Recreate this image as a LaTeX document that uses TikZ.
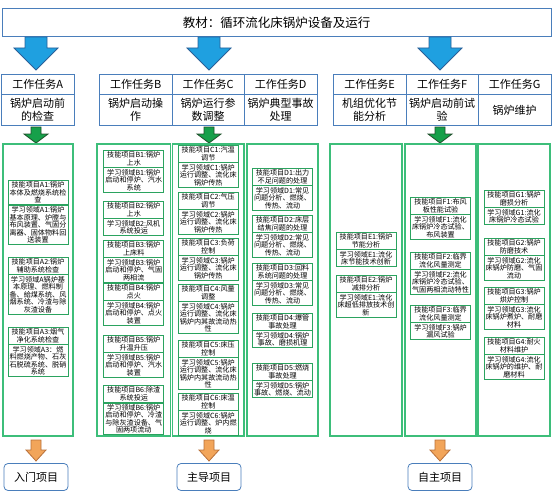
\documentclass[tikz,border=0pt]{standalone}
\usepackage{fontspec}
\setmainfont{Noto Sans CJK SC}
\usepackage{xcolor}
\usetikzlibrary{positioning}

\definecolor{lineblue}{HTML}{4A7EBB}
\definecolor{skyfill}{HTML}{1FA0E0}
\definecolor{skyline}{HTML}{2A6099}
\definecolor{leaffill}{HTML}{16A04A}
\definecolor{leafline}{HTML}{1E4F2A}
\definecolor{panelgreen}{HTML}{3DBE7A}
\definecolor{cardgreen}{HTML}{2BA35F}
\definecolor{orangefill}{HTML}{F2A55A}
\definecolor{orangeline}{HTML}{B8703A}

\begin{document}
\begin{tikzpicture}[
    x=1pt, y=-1pt,
    titlebox/.style={rectangle, draw=lineblue, line width=1pt, minimum width=549pt, minimum height=28pt, font=\fontsize{12.5}{14}\selectfont},
    taskname/.style={rectangle, draw=lineblue, line width=0.8pt, anchor=north west, minimum width=72.5pt, minimum height=20pt, inner sep=0pt, font=\fontsize{11}{13}\selectfont},
    tasktopic/.style={taskname, minimum height=31pt, align=center},
    panel/.style={rectangle, draw=panelgreen, line width=1.1pt, minimum height=292pt},
    skill/.style={rectangle, draw=cardgreen, line width=0.9pt, fill=white, minimum width=60pt, inner xsep=1pt, inner ysep=1.2pt, align=center, font=\fontsize{7.1}{7.6}\selectfont},
    learn/.style={skill},
    tagbox/.style={rectangle, rounded corners=4pt, draw=lineblue, line width=0.8pt, minimum width=64pt, minimum height=27pt, font=\fontsize{11}{13}\selectfont},
    bluearrow/.style={draw=skyline, fill=skyfill, line width=0.8pt, line join=miter},
    greenarrow/.style={draw=leafline, fill=leaffill, line width=0.8pt},
    orangearrow/.style={draw=orangeline, fill=orangefill, line width=0.8pt}
]
\useasboundingbox (0,0) rectangle (554,495);

\node (title) [titlebox] at (276.5,23) {教材：循环流化床锅炉设备及运行};

\draw [bluearrow] (25,37) -- ++(22,0) -- ++(0,11) -- ++(11,0) -- ++(-22,22) -- ++(-22,-22) -- ++(11,0) -- cycle;
\draw [bluearrow] (198,37) -- ++(22,0) -- ++(0,11) -- ++(11,0) -- ++(-22,22) -- ++(-22,-22) -- ++(11,0) -- cycle;
\draw [bluearrow] (429,37) -- ++(22,0) -- ++(0,11) -- ++(11,0) -- ++(-22,22) -- ++(-22,-22) -- ++(11,0) -- cycle;

\node (taskA) [taskname] at (1,74) {工作任务A};
\node (topicA) [tasktopic] at (1,94) {锅炉启动前\\的检查};
\node (taskB) [taskname] at (99,74) {工作任务B};
\node (topicB) [tasktopic] at (99,94) {锅炉启动操\\作};
\node (taskC) [taskname] at (171.5,74) {工作任务C};
\node (topicC) [tasktopic] at (171.5,94) {锅炉运行参\\数调整};
\node (taskD) [taskname] at (244,74) {工作任务D};
\node (topicD) [tasktopic] at (244,94) {锅炉典型事故\\处理};
\node (taskE) [taskname] at (333,74) {工作任务E};
\node (topicE) [tasktopic] at (333,94) {机组优化节\\能分析};
\node (taskF) [taskname] at (405.5,74) {工作任务F};
\node (topicF) [tasktopic] at (405.5,94) {锅炉启动前试\\验};
\node (taskG) [taskname] at (478,74) {工作任务G};
\node (topicG) [tasktopic] at (478,94) {锅炉维护};

\draw [greenarrow] (31,127) -- ++(10,0) -- ++(0,7) -- ++(7,0) -- ++(-12,9) -- ++(-12,-9) -- ++(7,0) -- cycle;
\draw [greenarrow] (204,127) -- ++(10,0) -- ++(0,7) -- ++(7,0) -- ++(-12,9) -- ++(-12,-9) -- ++(7,0) -- cycle;
\draw [greenarrow] (435,127) -- ++(10,0) -- ++(0,7) -- ++(7,0) -- ++(-12,9) -- ++(-12,-9) -- ++(7,0) -- cycle;

\node (panA) [panel, minimum width=70pt] at (38,290) {};
\node (panB) [panel, minimum width=73.5pt] at (133.75,290) {};
\node (panC) [panel, minimum width=71.5pt] at (208.25,290) {};
\node (panD) [panel, minimum width=71pt] at (282.5,290) {};
\node (panE) [panel, minimum width=72pt] at (366,290) {};
\node (panF) [panel, minimum width=71pt] at (440.5,290) {};
\node (panG) [panel, minimum width=72pt] at (514,290) {};

\node (a1h) [skill, anchor=north] at (38,180) {技能项目A1:锅炉\\本体及燃烧系统检\\查};
\node (a1b) [learn, below=0pt of a1h] {学习领域A1:锅炉\\基本原理、炉膛与\\布风装置、气固分\\离器、固体物料回\\送装置};
\node (a2h) [skill, anchor=north] at (38,257) {技能项目A2:锅炉\\辅助系统检查};
\node (a2b) [learn, below=0pt of a2h] {学习领域A锅炉基\\本原理、燃料制\\备、給煤系统、风\\烟系统、冷渣与除\\灰渣设备};
\node (a3h) [skill, anchor=north] at (38,327) {技能项目A3:烟气\\净化系统检查};
\node (a3b) [learn, below=0pt of a3h] {学习领域A3：燃\\料燃烧产物、石灰\\石脱硫系统、脱硝\\系统};

\node (b1h) [skill, anchor=north] at (133.75,150) {技能项目B1:锅炉\\上水};
\node (b1b) [learn, below=0pt of b1h] {学习领域B1:锅炉\\启动和停炉、汽水\\系统};
\node (b2h) [skill, anchor=north] at (133.75,201) {技能项目B2:锅炉\\上水};
\node (b2b) [learn, below=0pt of b2h] {学习领域B2:风机\\系统投运};
\node (b3h) [skill, anchor=north] at (133.75,240) {技能项目B3:锅炉\\上床料};
\node (b3b) [learn, below=0pt of b3h] {学习领域B3:锅炉\\启动和停炉、气固\\两相流};
\node (b4h) [skill, anchor=north] at (133.75,283) {技能项目B4:锅炉\\点火};
\node (b4b) [learn, below=0pt of b4h] {学习领域B4:锅炉\\启动和停炉、点火\\装置};
\node (b5h) [skill, anchor=north] at (133.75,335) {技能项目B5:锅炉\\升温升压};
\node (b5b) [learn, below=0pt of b5h] {学习领域B5:锅炉\\启动和停炉、汽水\\装置};
\node (b6h) [skill, anchor=north] at (133.75,385) {技能项目B6:除渣\\系统投运};
\node (b6b) [learn, below=0pt of b6h] {学习领域B6:锅炉\\启动和停炉、冷渣\\与除灰渣设备、气\\固两项流动};

\node (c1h) [skill, anchor=north] at (208.25,145) {技能项目C1:汽温\\调节};
\node (c1b) [learn, below=0pt of c1h] {学习领域C1:锅炉\\运行调整、流化床\\锅炉传热};
\node (c2h) [skill, anchor=north] at (208.25,192) {技能项目C2:气压\\调节};
\node (c2b) [learn, below=0pt of c2h] {学习领域C2:锅炉\\运行调整、流化床\\锅炉传热};
\node (c3h) [skill, anchor=north] at (208.25,238) {技能项目C3:负荷\\控制};
\node (c3b) [learn, below=0pt of c3h] {学习领域C3:锅炉\\运行调整、流化床\\锅炉传热};
\node (c4h) [skill, anchor=north] at (208.25,284) {技能项目C4:风量\\调整};
\node (c4b) [learn, below=0pt of c4h] {学习领域C4:锅炉\\运行调整、流化床\\锅炉内其故流动热\\性};
\node (c5h) [skill, anchor=north] at (208.25,340) {技能项目C5:床压\\控制};
\node (c5b) [learn, below=0pt of c5h] {学习领域C5:锅炉\\运行调整、流化床\\锅炉内其故流动热\\性};
\node (c6h) [skill, anchor=north] at (208.25,393) {技能项目C6:床温\\控制};
\node (c6b) [learn, below=0pt of c6h] {学习领域C6:锅炉\\运行调整、炉内燃\\烧};

\node (d1h) [skill, anchor=north] at (282.5,168) {技能项目D1:出力\\不足问题的处理};
\node (d1b) [learn, below=0pt of d1h] {学习领域D1:常见\\问题分析、燃烧、\\传热、流动};
\node (d2h) [skill, anchor=north] at (282.5,215) {技能项目D2:床层\\结焦问题的处理};
\node (d2b) [learn, below=0pt of d2h] {学习领域D2:常见\\问题分析、燃烧、\\传热、流动};
\node (d3h) [skill, anchor=north] at (282.5,263) {技能项目D3:回料\\系统问题的处理};
\node (d3b) [learn, below=0pt of d3h] {学习领域D3:常见\\问题分析、燃烧、\\传热、流动};
\node (d4h) [skill, anchor=north] at (282.5,313) {技能项目D4:爆管\\事故处理};
\node (d4b) [learn, below=0pt of d4h] {学习领域D4:锅炉\\事故、磨损机理};
\node (d5h) [skill, anchor=north] at (282.5,363) {技能项目D5:燃烧\\事故处理};
\node (d5b) [learn, below=0pt of d5h] {学习领域D5:锅炉\\事故、燃烧、流动};

\node (e1h) [skill, anchor=north] at (366,232) {技能项目E1:锅炉\\节能分析};
\node (e1b) [learn, below=0pt of e1h] {学习领域E1:流化\\床节能技术创新};
\node (e2h) [skill, anchor=north] at (366,275) {技能项目E2:锅炉\\减排分析};
\node (e2b) [learn, below=0pt of e2h] {学习领域E1:流化\\床超低排放技术创\\新};

\node (f1h) [skill, anchor=north] at (440.5,197) {技能项目F1:布风\\板性能试验};
\node (f1b) [learn, below=0pt of f1h] {学习领域F1:流化\\床锅炉冷态试验、\\布风装置};
\node (f2h) [skill, anchor=north] at (440.5,252) {技能项目F2:临界\\流化风量测定};
\node (f2b) [learn, below=0pt of f2h] {学习领域F2:流化\\床锅炉冷态试验、\\气固两相流动特性};
\node (f3h) [skill, anchor=north] at (440.5,305) {技能项目F3:临界\\流化风量测定};
\node (f3b) [learn, below=0pt of f3h] {学习领域F3:锅炉\\漏风试验};

\node (g1h) [skill, anchor=north] at (514,190) {技能项目G1:锅炉\\磨损分析};
\node (g1b) [learn, below=0pt of g1h] {学习领域G1:流化\\床锅炉冷态试验};
\node (g2h) [skill, anchor=north] at (514,238) {技能项目G2:锅炉\\防磨技术};
\node (g2b) [learn, below=0pt of g2h] {学习领域G2:流化\\床锅炉防磨、气固\\流动};
\node (g3h) [skill, anchor=north] at (514,287) {技能项目G3:锅炉\\烘炉控制};
\node (g3b) [learn, below=0pt of g3h] {学习领域G3:流化\\床锅炉煮炉、耐磨\\材料};
\node (g4h) [skill, anchor=north] at (514,337) {技能项目G4:耐火\\材料维护};
\node (g4b) [learn, below=0pt of g4h] {学习领域G4:流化\\床锅炉的维护、耐\\磨材料};

\draw [orangearrow] (31,440) -- ++(10,0) -- ++(0,10) -- ++(5,0) -- ++(-10,11) -- ++(-10,-11) -- ++(5,0) -- cycle;
\draw [orangearrow] (204,440) -- ++(10,0) -- ++(0,10) -- ++(5,0) -- ++(-10,11) -- ++(-10,-11) -- ++(5,0) -- cycle;
\draw [orangearrow] (435,440) -- ++(10,0) -- ++(0,10) -- ++(5,0) -- ++(-10,11) -- ++(-10,-11) -- ++(5,0) -- cycle;

\node (entry) [tagbox] at (36,477) {入门项目};
\node (lead) [tagbox] at (209,477) {主导项目};
\node (self) [tagbox] at (440,477) {自主项目};

\end{tikzpicture}
\end{document}
